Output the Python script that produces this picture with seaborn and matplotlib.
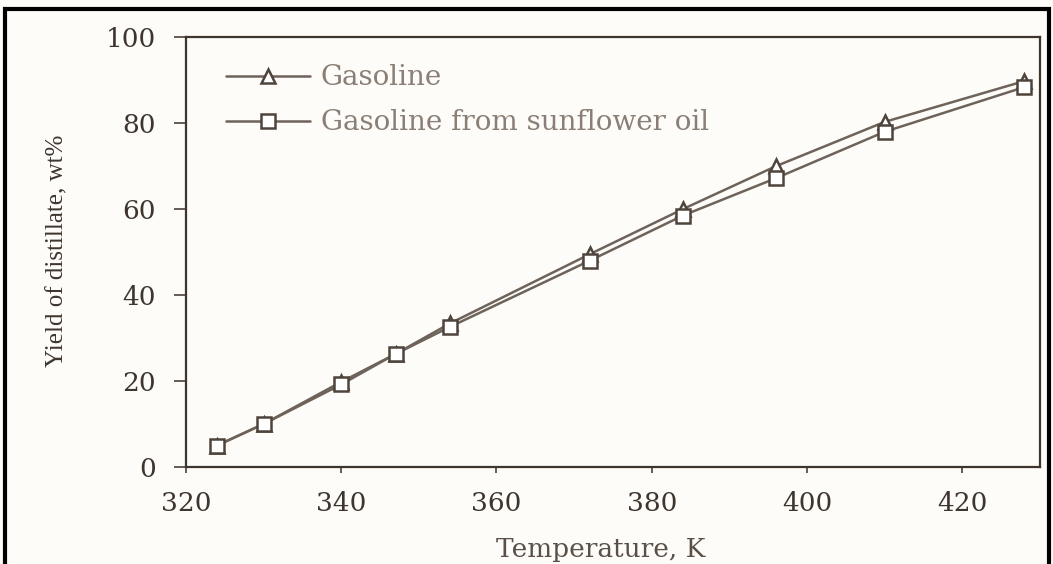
import matplotlib
matplotlib.use("Agg")
import matplotlib.pyplot as plt
import matplotlib.patches as mpatches
import seaborn as sns
import pandas as pd

temp_gas = [324, 330, 340, 347, 354, 372, 384, 396, 410, 428]
yield_gas = [5, 10, 19.8, 26.3, 33.4, 49.5, 60, 70, 80.3, 89.8]
temp_sun = [324, 330, 340, 347, 354, 372, 384, 396, 410, 428]
yield_sun = [5, 10, 19.2, 26.3, 32.6, 48, 58.5, 67.2, 78, 88.4]
series_names = ["Gasoline", "Gasoline from sunflower oil"]
x_ticks = [320, 340, 360, 380, 400, 420]
y_ticks = [0, 20, 40, 60, 80, 100]

sns.set_style("ticks")
plt.rcParams["font.family"] = ["DejaVu Serif"]

line_col = "#6e635a"

fig = plt.figure(figsize=(10.53, 5.64), dpi=100)
fig.patch.set_facecolor("#fdfcf8")
fig.patches.append(mpatches.Rectangle((0.005, -0.01), 0.991, 0.994, transform=fig.transFigure,
                                      fill=False, edgecolor="black", linewidth=3, figure=fig))
ax = fig.add_axes([0.1766, 0.172, 0.811, 0.762])
ax.set_facecolor("#fdfcf8")

df = pd.concat([
    pd.DataFrame({"T": temp_gas, "Y": yield_gas, "S": series_names[0]}),
    pd.DataFrame({"T": temp_sun, "Y": yield_sun, "S": series_names[1]}),
])

for name, mk in zip(series_names, ["^", "s"]):
    sub = df[df["S"] == name]
    sns.lineplot(data=sub, x="T", y="Y", ax=ax, color=line_col, marker=mk,
                 markersize=10, markerfacecolor="white", markeredgecolor="#4e443c",
                 markeredgewidth=1.8, linewidth=1.8, label=name)

ax.set_xlim(320, 430)
ax.set_ylim(0, 100)
ax.set_xticks(x_ticks)
ax.set_yticks(y_ticks)
ax.tick_params(axis="x", direction="out", length=4.5, width=1.2, colors="#4a4038",
               labelsize=19, pad=13)
ax.tick_params(axis="y", direction="out", length=8.5, width=1.2, colors="#4a4038",
               labelsize=19, pad=13)
for lab in ax.get_xticklabels() + ax.get_yticklabels():
    lab.set_color("#3e352e")
for sp in ax.spines.values():
    sp.set_color("#3e352e")
    sp.set_linewidth(1.6)

ax.set_xlabel("Temperature, K", fontsize=19, color="#5a5048")
ax.xaxis.set_label_coords(0.486, -0.163)
ax.set_ylabel("Yield of distillate, wt%", fontsize=18, color="#3e352e",
              family="Liberation Serif")
ax.yaxis.set_label_coords(-0.138, 0.502)

leg = ax.legend(loc="upper left", bbox_to_anchor=(0.018, 0.995), frameon=False,
                handlelength=3.0, handletextpad=0.4, labelspacing=0.65,
                prop={"family": "DejaVu Serif", "size": 20})
for t in leg.get_texts():
    t.set_color("#8a7f76")

fig.savefig("out.png", dpi=100, facecolor=fig.get_facecolor())
